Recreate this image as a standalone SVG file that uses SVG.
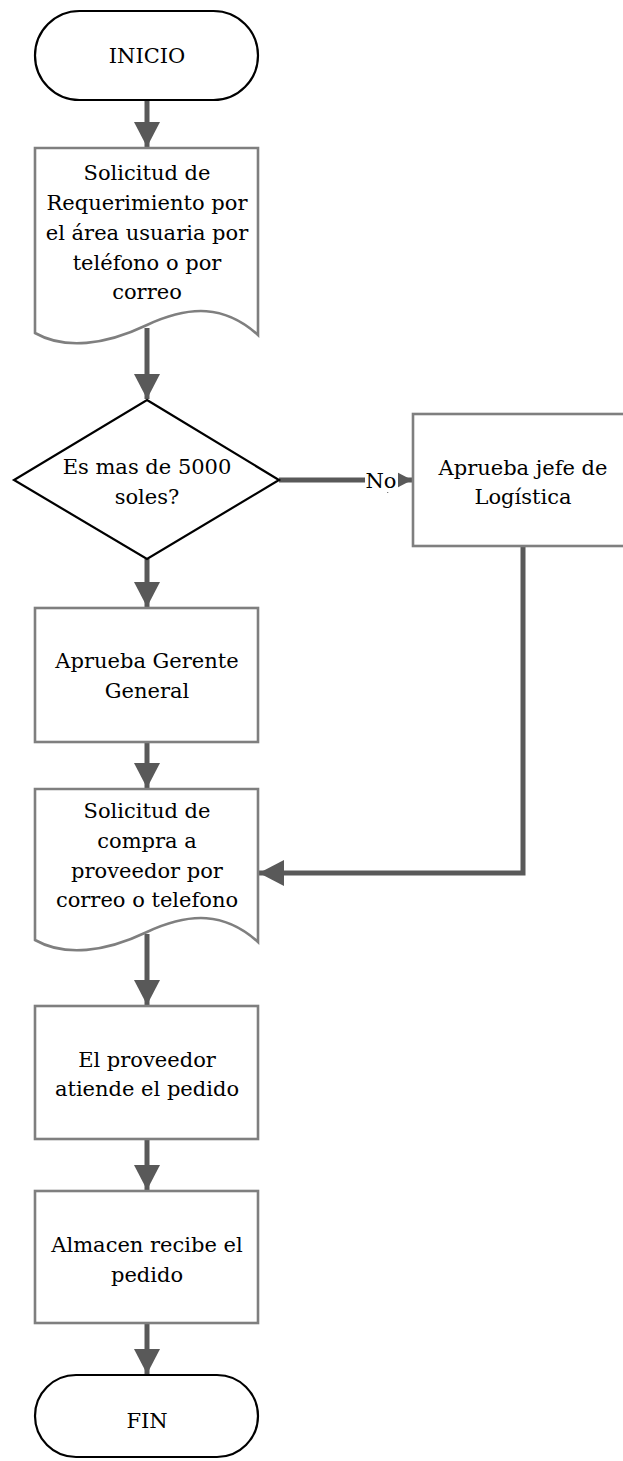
<svg xmlns="http://www.w3.org/2000/svg" width="623" height="1461" viewBox="0 0 623 1461">
<style>
.t{font-family:"DejaVu Serif","Liberation Serif",serif;font-size:21px;fill:#000;text-anchor:middle}
.term{fill:#fff;stroke:#000;stroke-width:2.2}
.box{fill:#fff;stroke:#7f7f7f;stroke-width:2.6}
.con{fill:none;stroke:#595959;stroke-width:5}
</style>
<defs>
<marker id="ah" markerUnits="userSpaceOnUse" markerWidth="26" markerHeight="26" refX="25" refY="13" orient="auto" viewBox="0 0 26 26">
<path d="M0,0 L25,13 L0,26 Z" fill="#595959"/>
</marker>
</defs>
<rect width="623" height="1461" fill="#fff"/>
<g id="connectors">
<path class="con" d="M147,100 V147" marker-end="url(#ah)"/>
<path class="con" d="M147,328 V399" marker-end="url(#ah)"/>
<path class="con" d="M147,559 V607" marker-end="url(#ah)"/>
<path class="con" d="M279,480 H412" marker-end="url(#ah)"/>
<path class="con" d="M147,742 V788" marker-end="url(#ah)"/>
<path class="con" d="M523,546 V873 H259" marker-end="url(#ah)"/>
<path class="con" d="M147,934 V1005" marker-end="url(#ah)"/>
<path class="con" d="M147,1139 V1190" marker-end="url(#ah)"/>
<path class="con" d="M147,1323 V1374" marker-end="url(#ah)"/>
<rect x="365" y="466" width="33" height="26" fill="#fff"/>
<text class="t" x="381" y="488">No</text>
</g>
<g id="inicio">
<rect class="term" x="35" y="11" width="223" height="89" rx="44.5"/>
<text class="t" x="147" y="63">INICIO</text>
</g>
<g id="solicitud-requerimiento">
<path class="box" d="M35,148 H258 V335 C225,305 190,305 147,325 C105,345 65,350 35,333 Z"/>
<text class="t" x="147" y="180">Solicitud de</text>
<text class="t" x="147" y="210">Requerimiento por</text>
<text class="t" x="147" y="240">el área usuaria por</text>
<text class="t" x="147" y="270">teléfono o por</text>
<text class="t" x="147" y="299">correo</text>
</g>
<g id="decision">
<path class="term" d="M147,400 L279,480 L147,559 L14,480 Z"/>
<text class="t" x="147" y="474">Es mas de 5000</text>
<text class="t" x="147" y="504">soles?</text>
</g>
<g id="aprueba-jefe">
<rect class="box" x="413" y="414" width="222" height="132"/>
<text class="t" x="523" y="475">Aprueba jefe de</text>
<text class="t" x="523" y="504">Logística</text>
</g>
<g id="aprueba-gerente">
<rect class="box" x="35" y="608" width="223" height="134"/>
<text class="t" x="147" y="668">Aprueba Gerente</text>
<text class="t" x="147" y="698">General</text>
</g>
<g id="solicitud-compra">
<path class="box" d="M35,789 H258 V942 C225,912 190,912 147,932 C105,952 65,957 35,940 Z"/>
<text class="t" x="147" y="818">Solicitud de</text>
<text class="t" x="147" y="848">compra a</text>
<text class="t" x="147" y="878">proveedor por</text>
<text class="t" x="147" y="907">correo o telefono</text>
</g>
<g id="proveedor">
<rect class="box" x="35" y="1006" width="223" height="133"/>
<text class="t" x="147" y="1067">El proveedor</text>
<text class="t" x="147" y="1096">atiende el pedido</text>
</g>
<g id="almacen">
<rect class="box" x="35" y="1191" width="223" height="132"/>
<text class="t" x="147" y="1252">Almacen recibe el</text>
<text class="t" x="147" y="1282">pedido</text>
</g>
<g id="fin">
<rect class="term" x="35" y="1375" width="223" height="82" rx="41"/>
<text class="t" x="147" y="1428">FIN</text>
</g>
</svg>
